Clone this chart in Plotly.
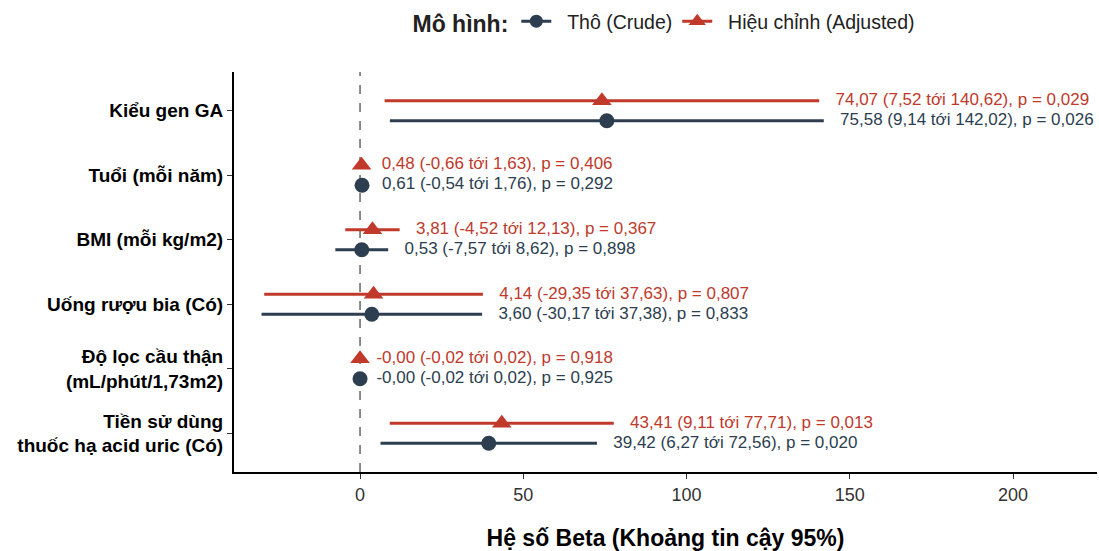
import plotly.graph_objects as go

categories = ["Kiểu gen GA", "Tuổi (mỗi năm)", "BMI (mỗi kg/m2)", "Uống rượu bia (Có)",
              "Độ lọc cầu thận<br>(mL/phút/1,73m2)", "Tiền sử dùng<br>thuốc hạ acid uric (Có)"]

crude_est = [75.58, 0.61, 0.53, 3.60, -0.00, 39.42]
crude_lo = [9.14, -0.54, -7.57, -30.17, -0.02, 6.27]
crude_hi = [142.02, 1.76, 8.62, 37.38, 0.02, 72.56]
crude_p = ["0,026", "0,292", "0,898", "0,833", "0,925", "0,020"]

adj_est = [74.07, 0.48, 3.81, 4.14, -0.00, 43.41]
adj_lo = [7.52, -0.66, -4.52, -29.35, -0.02, 9.11]
adj_hi = [140.62, 1.63, 12.13, 37.63, 0.02, 77.71]
adj_p = ["0,029", "0,406", "0,367", "0,807", "0,918", "0,013"]

x_ticks = [0, 50, 100, 150, 200]

RED = "#C0392B"
NAVY = "#2C3E50"
FONT = "Liberation Sans, Arial, sans-serif"

n = len(categories)
ypos = [n - i for i in range(n)]
dodge = 0.155


def fmt(v):
    s = f"{v:.2f}".replace(".", ",")
    if s == "0,00" and v <= 0:
        s = "-0,00"
    return s


def labels(est, lo, hi, p):
    return [f"{fmt(e)} ({fmt(l)} tới {fmt(h)}), p = {pp}" for e, l, h, pp in zip(est, lo, hi, p)]


fig = go.Figure()

for name, est, lo, hi, p, col, sym, size, off in [
    ("Thô (Crude)", crude_est, crude_lo, crude_hi, crude_p, NAVY, "circle", 15, -dodge),
    ("Hiệu chỉnh (Adjusted)", adj_est, adj_lo, adj_hi, adj_p, RED, "triangle-up", 17, dodge),
]:
    yy = [y + off for y in ypos]
    fig.add_trace(go.Scatter(
        x=est, y=yy, mode="markers",
        marker=dict(symbol=sym, size=size, color=col),
        error_x=dict(type="data", symmetric=False,
                     array=[h - e for h, e in zip(hi, est)],
                     arrayminus=[e - l for e, l in zip(est, lo)],
                     color=col, thickness=3, width=0),
        showlegend=False, hoverinfo="skip"))
    fig.add_trace(go.Scatter(
        x=[h + 5 for h in hi], y=yy, mode="text",
        text=labels(est, lo, hi, p), textposition="middle right",
        textfont=dict(family=FONT, size=17, color=col),
        showlegend=False, hoverinfo="skip"))

# legend entries
for name, col, sym, size in [("Thô (Crude)", NAVY, "circle", 13),
                             ("Hiệu chỉnh (Adjusted)", RED, "triangle-up", 15)]:
    fig.add_trace(go.Scatter(x=[None], y=[None], mode="lines+markers",
                             name="\u00a0\u00a0" + name,
                             line=dict(color=col, width=3),
                             marker=dict(symbol=sym, size=size, color=col)))

fig.add_shape(type="line", xref="x", yref="paper", x0=0, x1=0, y0=0, y1=1,
              line=dict(color="#666666", width=1.5, dash="dash"), layer="below")

fig.update_layout(
    width=1099, height=551,
    margin=dict(l=234, r=2, t=68, b=79),
    plot_bgcolor="white", paper_bgcolor="white",
    font=dict(family=FONT, color="black"),
    legend=dict(orientation="h", x=0.5, xanchor="center", y=1.125, yanchor="middle",
                title=dict(text="<b>Mô hình:</b>", font=dict(size=23, family=FONT)),
                font=dict(size=19.5, family=FONT, color="#222222"),
                itemwidth=30),
    xaxis=dict(range=[-38.6, 225.7], tickvals=x_ticks, ticktext=[str(t) for t in x_ticks],
               showgrid=False, zeroline=False, showline=True, linecolor="black", linewidth=2,
               ticks="outside", ticklen=5, tickcolor="#333333", automargin=False,
               tickfont=dict(size=18, color="#333333", family=FONT),
               title=dict(text="<b>Hệ số Beta (Khoảng tin cậy 95%)</b>",
                          font=dict(size=23, family=FONT), standoff=27)),
    yaxis=dict(range=[0.4, 6.6], tickvals=ypos, ticktext=[f"<b>{c}</b>" for c in categories],
               showgrid=False, zeroline=False, showline=True, linecolor="black", linewidth=2,
               ticks="outside", ticklen=5, tickcolor="#333333", automargin=False,
               tickfont=dict(size=19, color="black", family=FONT)),
)

fig.write_html("out.html", config={"displayModeBar": False},
               post_script="document.body.style.margin='0';")
